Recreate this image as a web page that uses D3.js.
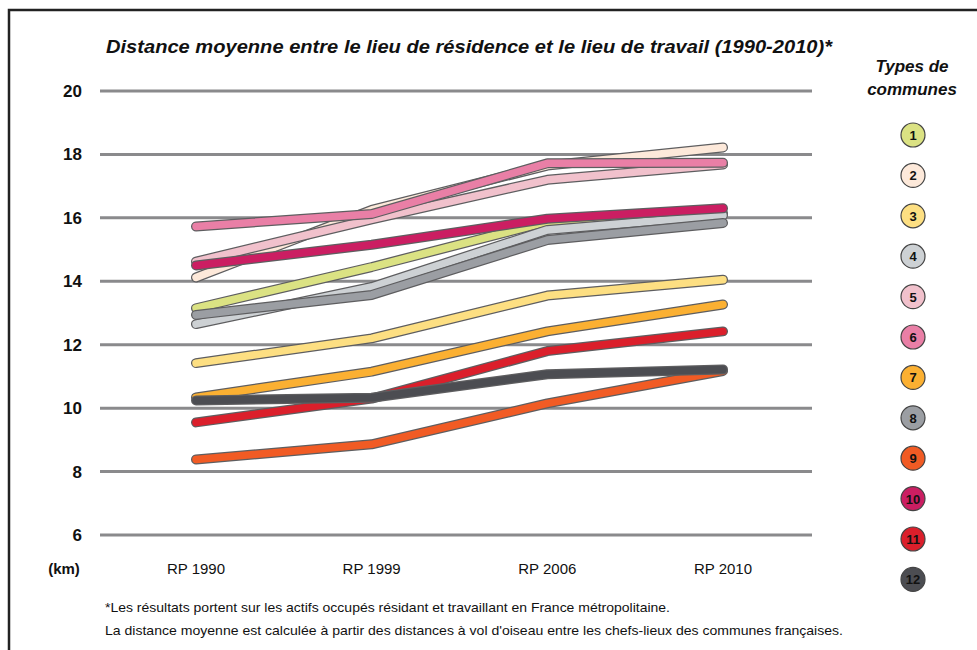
<!DOCTYPE html>
<html><head><meta charset="utf-8">
<script src="https://cdn.jsdelivr.net/npm/d3@7"></script>
<style>body{margin:0;background:#fff}svg{display:block}</style>
</head><body>
<svg id="c" width="977" height="650"></svg>
<script>
const categories = ["RP 1990", "RP 1999", "RP 2006", "RP 2010"];
const yTicks = [6, 8, 10, 12, 14, 16, 18, 20];
const types = ["1","2","3","4","5","6","7","8","9","10","11","12"];
const colors = ["#dbe283","#fde9da","#fddf82","#cdd1d4","#f1c1cc","#e97fa6","#fbb032","#9b9ea3","#f15b24","#cb1e62","#db1f2b","#4c4d52"];
const s1 = [13.15, 14.45, 15.88, 16.15];
const s2 = [14.12, 16.25, 17.65, 18.22];
const s3 = [11.42, 12.2, 13.55, 14.05];
const s4 = [12.65, 13.82, 15.62, 16.08];
const s5 = [14.62, 15.95, 17.2, 17.68];
const s6 = [15.73, 16.12, 17.72, 17.74];
const s7 = [10.34, 11.15, 12.42, 13.27];
const s8 = [12.94, 13.57, 15.3, 15.84];
const s9 = [8.38, 8.86, 10.15, 11.17];
const s10 = [14.5, 15.15, 15.97, 16.3];
const s11 = [9.55, 10.3, 11.8, 12.42];
const s12 = [10.24, 10.33, 11.07, 11.22];
const series = [s1,s2,s3,s4,s5,s6,s7,s8,s9,s10,s11,s12];
const drawOrder = [1,4,5,0,3,7,9,2,6,8,10,11];
const title = "Distance moyenne entre le lieu de résidence et le lieu de travail (1990-2010)*";
const legendTitle = ["Types de", "communes"];
const unit = "(km)";
const notes = ["*Les résultats portent sur les actifs occupés résidant et travaillant en France métropolitaine.",
"La distance moyenne est calculée à partir des distances à vol d'oiseau entre les chefs-lieux des communes françaises."];

const svg = d3.select("#c");
const font = "'Liberation Sans', Arial, sans-serif";
const x = d3.scalePoint().domain(categories).range([196, 723]);
const y = d3.scaleLinear().domain([6, 20]).range([535, 91]);

// frame
svg.append("path").attr("d","M9,651 L9,10 L980,10").attr("fill","none").attr("stroke","#222").attr("stroke-width",2.5);

// grid
svg.append("g").selectAll("line").data(yTicks).join("line")
  .attr("x1",100).attr("x2",812).attr("y1",d=>y(d)).attr("y2",d=>y(d))
  .attr("stroke","#8a8a8c").attr("stroke-width",3);

// y labels
svg.append("g").selectAll("text").data(yTicks).join("text")
  .attr("x",82).attr("y",d=>y(d)+6).attr("text-anchor","end")
  .attr("font-family",font).attr("font-weight","bold").attr("font-size",17).attr("fill","#111")
  .text(d=>d);
svg.append("text").attr("x",64).attr("y",574).attr("text-anchor","middle")
  .attr("font-family",font).attr("font-weight","bold").attr("font-size",15).attr("fill","#111").text(unit);

// x labels
svg.append("g").selectAll("text").data(categories).join("text")
  .attr("x",d=>x(d)).attr("y",574).attr("text-anchor","middle")
  .attr("font-family",font).attr("font-size",15).attr("fill","#111").text(d=>d);

// lines
const line = d3.line().x((d,i)=>x(categories[i])).y(d=>y(d));
const lg = svg.append("g");
drawOrder.forEach(k=>{
  lg.append("path").attr("d",line(series[k])).attr("fill","none")
    .attr("stroke","#5e5e60").attr("stroke-width",10).attr("stroke-linecap","round").attr("stroke-linejoin","round");
  lg.append("path").attr("d",line(series[k])).attr("fill","none")
    .attr("stroke",colors[k]).attr("stroke-width",7.5).attr("stroke-linecap","round").attr("stroke-linejoin","round");
});

// title
svg.append("text").attr("x",106).attr("y",53).attr("textLength",726).attr("lengthAdjust","spacingAndGlyphs")
  .attr("font-family",font).attr("font-weight","bold").attr("font-style","italic").attr("font-size",19).attr("fill","#111")
  .text(title);

// legend
svg.append("g").selectAll("text").data(legendTitle).join("text")
  .attr("x",912).attr("y",(d,i)=>72+i*23).attr("text-anchor","middle")
  .attr("font-family",font).attr("font-weight","bold").attr("font-style","italic").attr("font-size",17).attr("fill","#111")
  .text(d=>d);
const leg = svg.append("g").selectAll("g").data(types).join("g")
  .attr("transform",(d,i)=>`translate(913,${135+i*40.4})`);
leg.append("circle").attr("r",12).attr("fill",(d,i)=>colors[i]).attr("stroke","#444").attr("stroke-width",1.2);
leg.append("text").attr("y",5).attr("text-anchor","middle")
  .attr("font-family",font).attr("font-weight","bold").attr("font-size",13).attr("fill","#111")
  .text(d=>d);

// notes
svg.append("g").selectAll("text").data(notes).join("text")
  .attr("x",105).attr("y",(d,i)=>612+i*23)
  .attr("textLength",(d,i)=>i===0?565:738).attr("lengthAdjust","spacingAndGlyphs")
  .attr("font-family",font).attr("font-size",13.5).attr("fill","#111").text(d=>d);
</script>
</body></html>
